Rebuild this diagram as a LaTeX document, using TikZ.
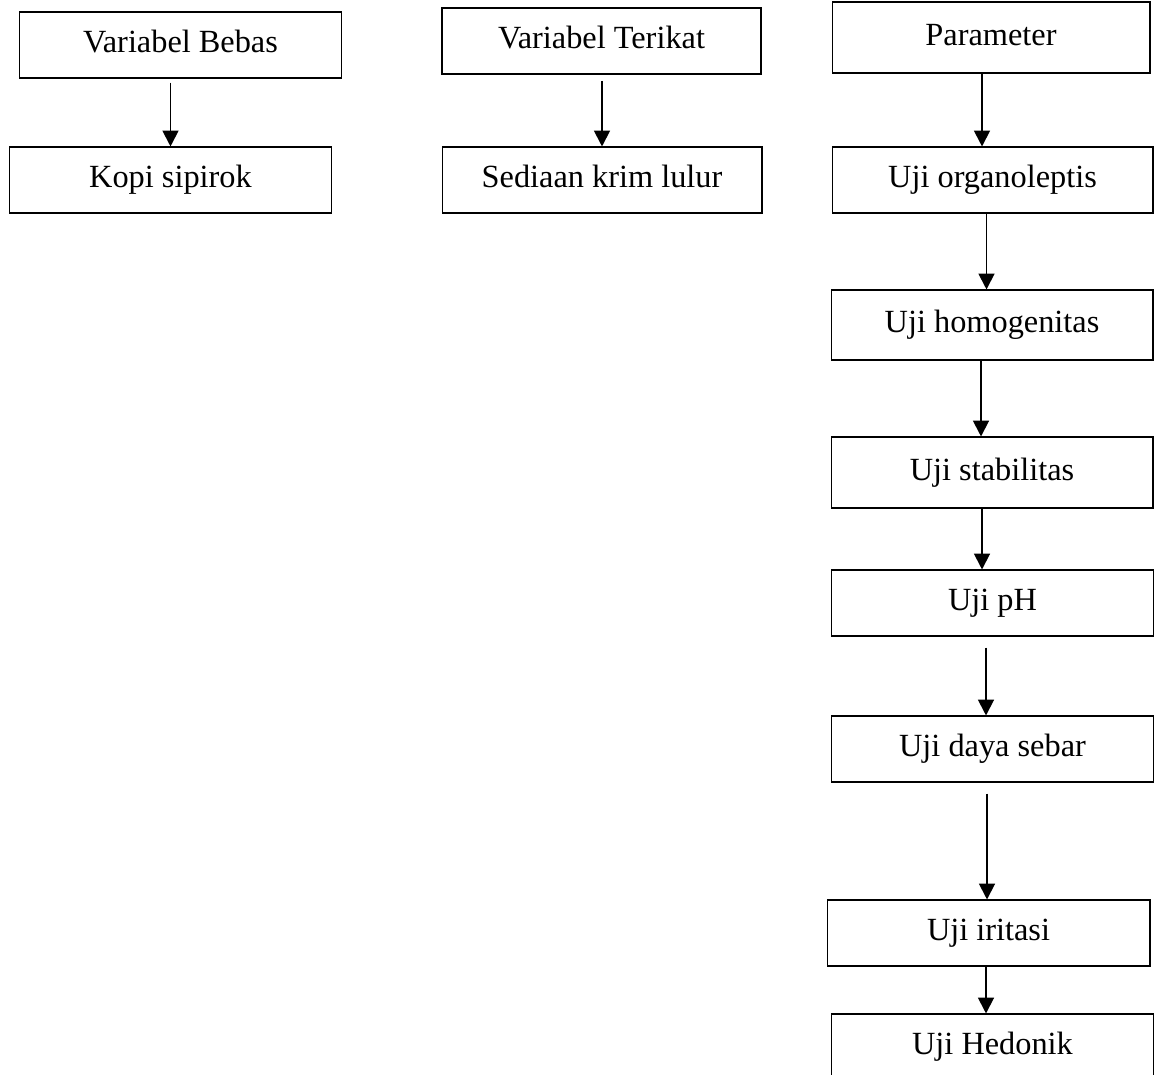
\documentclass[tikz,border=0pt]{standalone}
\usepackage{fontspec}
\setmainfont{Liberation Serif}
\usetikzlibrary{arrows.meta}

\begin{document}
\begin{tikzpicture}[
    x=0.02cm, y=-0.02cm,
    box/.style={rectangle, draw, line width=0.6pt, align=center, minimum width=6.44cm, minimum height=1.32cm, text height=12pt, text depth=3pt, font=\fontsize{18.4}{22}\selectfont},
    arrow/.style={-{Triangle[width=9pt,length=9pt]}, line width=1.1pt}
]
\useasboundingbox (0,0) rectangle (1163,1075);
\clip (0,0) rectangle (1163,1075);

% left column
\node[box, minimum width=6.46cm] (bebas) at (180.5,45) {Variabel Bebas};
\node[box, minimum width=6.46cm] (kopi) at (170.5,180) {Kopi sipirok};

% middle column
\node[box, line width=1.1pt, minimum width=6.38cm] (terikat) at (601.5,41) {Variabel Terikat};
\node[box, minimum width=6.4cm] (sediaan) at (602,180) {Sediaan krim lulur};

% right column
\node[box, minimum width=6.36cm, minimum height=1.42cm] (param) at (991,37.5) {Parameter};
\node[box, minimum width=6.42cm] (organo) at (992.5,180) {Uji organoleptis};
\node[box, minimum height=1.4cm] (homogen) at (992,325) {Uji homogenitas};
\node[box, minimum height=1.42cm] (stabil) at (992,472.5) {Uji stabilitas};
\node[box] (ph) at (992.5,603) {Uji pH};
\node[box] (daya) at (992.5,749) {Uji daya sebar};
\node[box, minimum width=6.46cm] (iritasi) at (988.5,933) {Uji iritasi};
\node[box] (hedonik) at (992.5,1047) {Uji Hedonik};

\draw[arrow, shorten <=0.08cm] (bebas.south -| kopi.north) -- (kopi.north);
\draw[arrow, shorten <=0.12cm] (terikat.south -| sediaan.north) -- (sediaan.north);
\draw[arrow] ([xshift=-0.18cm]param.south) -- ([xshift=-0.18cm]param.south |- organo.north);
\draw[arrow] ([xshift=-0.12cm]organo.south) -- ([xshift=-0.12cm]organo.south |- homogen.north);
\draw[arrow] ([xshift=-0.22cm]homogen.south) -- ([xshift=-0.22cm]homogen.south |- stabil.north);
\draw[arrow] ([xshift=-0.2cm]stabil.south) -- ([xshift=-0.2cm]stabil.south |- ph.north);
\draw[arrow, shorten <=0.22cm] ([xshift=-0.13cm]ph.south) -- ([xshift=-0.13cm]ph.south |- daya.north);
\draw[arrow, shorten <=0.22cm] ([xshift=-0.11cm]daya.south) -- ([xshift=-0.11cm]daya.south |- iritasi.north);
\draw[arrow] ([xshift=-0.05cm]iritasi.south) -- ([xshift=-0.05cm]iritasi.south |- hedonik.north);
\end{tikzpicture}
\end{document}
